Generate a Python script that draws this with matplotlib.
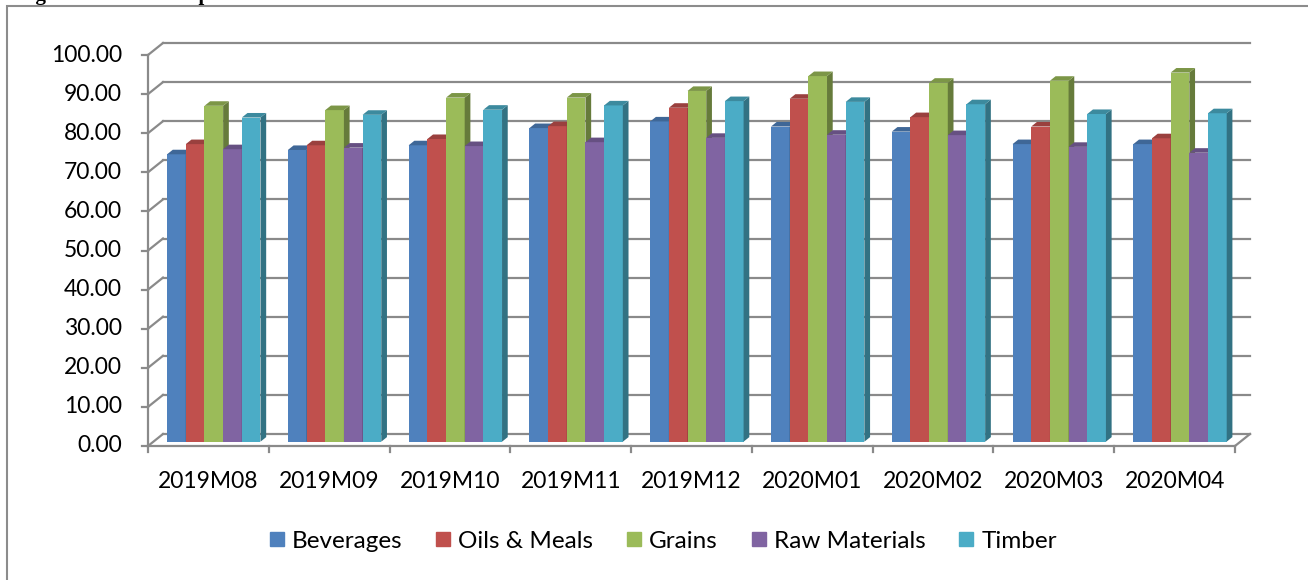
import numpy as np
import matplotlib.pyplot as plt
from matplotlib.patches import Polygon, Rectangle
from matplotlib.lines import Line2D
from matplotlib.colors import to_rgb

plt.rcParams['font.family'] = ['Lato', 'DejaVu Sans']

# values
months = ['2019M08', '2019M09', '2019M10', '2019M11', '2019M12',
          '2020M01', '2020M02', '2020M03', '2020M04']
beverages = [73.5, 74.6, 75.8, 80.2, 81.9, 80.6, 79.3, 76.1, 76.1]
oils_meals = [76.1, 75.8, 77.4, 80.7, 85.4, 87.7, 83.0, 80.6, 77.6]
grains = [85.9, 84.8, 88.0, 88.0, 89.7, 93.5, 91.8, 92.3, 94.4]
raw_materials = [74.8, 75.2, 75.6, 76.6, 77.7, 78.5, 78.4, 75.4, 73.9]
timber = [82.9, 83.6, 84.9, 86.0, 87.1, 86.9, 86.3, 83.8, 84.0]

series_names = ['Beverages', 'Oils & Meals', 'Grains', 'Raw Materials', 'Timber']
series = [beverages, oils_meals, grains, raw_materials, timber]
colors = ['#4F81BD', '#C0504D', '#9BBB59', '#8064A2', '#4BACC6']
yticks = np.arange(0, 101, 10)

W, H = 1308, 580
fig = plt.figure(figsize=(W / 100, H / 100), dpi=100)

# outer chart border
fig.add_artist(Rectangle((7 / W, -0.05), 1.1, 1 - 6 / H + 0.05, transform=fig.transFigure,
                         fill=False, ec='#8c8c8c', lw=1.5))
# caption of the document, only its descenders show at the top
fig.text(17 / W, 1.0, 'Figure 12: Sub-Components', family='Liberation Serif',
         weight='bold', fontsize=15, va='baseline', ha='left')

# front plane of the plot: x in categories, y in values
ax = fig.add_axes([148 / W, (H - 446) / H, 1087 / W, 391 / H])
ax.set_xlim(0, 9)
ax.set_ylim(0, 100)
ax.axis('off')

n = len(months)
dx = 15 / (1087 / 9)      # depth offset in category units
dy = 12 / 3.91            # depth offset in value units
grid_c = '#8a8a8a'
glw = 1.6

# back wall gridlines + diagonals to the front axis
for v in yticks:
    ax.plot([dx, n + dx], [v + dy, v + dy], color=grid_c, lw=glw, clip_on=False, zorder=1)
    ax.plot([0, dx], [v, v + dy], color=grid_c, lw=glw, clip_on=False, zorder=1)
    ax.plot([-0.05, 0], [v, v], color=grid_c, lw=glw, clip_on=False, zorder=1)
    ax.text(-0.215, v, '%.2f' % v, ha='right', va='center', fontsize=16.5, color='black')

# front axis and floor
ax.plot([0, 0], [0, 100], color=grid_c, lw=glw, clip_on=False, zorder=1)
ax.plot([0, n], [0, 0], color=grid_c, lw=glw, clip_on=False, zorder=1)
ax.plot([n, n + dx], [0, dy], color=grid_c, lw=glw, clip_on=False, zorder=1)
for i in range(n + 1):
    ax.plot([i, i], [0, -1.5], color=grid_c, lw=glw, clip_on=False, zorder=1)
for i, m in enumerate(months):
    ax.text(i + 0.5, -9.0, m, ha='center', va='center', fontsize=16.5)

# pseudo 3D columns
gap = 13.7 / 120.8
bw = (1 - 2 * gap) / 5
f0 = 0.36   # depth fraction of the bar front
bd = 0.38   # bar depth fraction
z = 2
for i in range(n):
    for j in range(5):
        v = series[j][i]
        c = np.array(to_rgb(colors[j]))
        x0 = i + gap + j * bw + f0 * dx
        y0 = f0 * dy
        ax.bar(x0, v, width=bw, bottom=y0, align='edge', color=colors[j],
               lw=0, clip_on=False, zorder=z)
        side = [(x0 + bw, y0), (x0 + bw + bd * dx, y0 + bd * dy),
                (x0 + bw + bd * dx, y0 + v + bd * dy), (x0 + bw, y0 + v)]
        top = [(x0, y0 + v), (x0 + bw, y0 + v),
               (x0 + bw + bd * dx, y0 + v + bd * dy), (x0 + bd * dx, y0 + v + bd * dy)]
        ax.add_patch(Polygon(side, closed=True, fc=c * 0.66, lw=0, clip_on=False, zorder=z))
        ax.add_patch(Polygon(top, closed=True, fc=c * 0.8, lw=0, clip_on=False, zorder=z))
        z += 1

handles = [Line2D([], [], marker='s', ls='', color=c, markersize=10.5) for c in colors]
fig.legend(handles, series_names, loc='center', bbox_to_anchor=(663 / W, 1 - 541 / H),
           ncol=5, frameon=False, fontsize=17.5, handlelength=0.65, handletextpad=0.3,
           columnspacing=1.35)

plt.savefig('out.png', dpi=100)
